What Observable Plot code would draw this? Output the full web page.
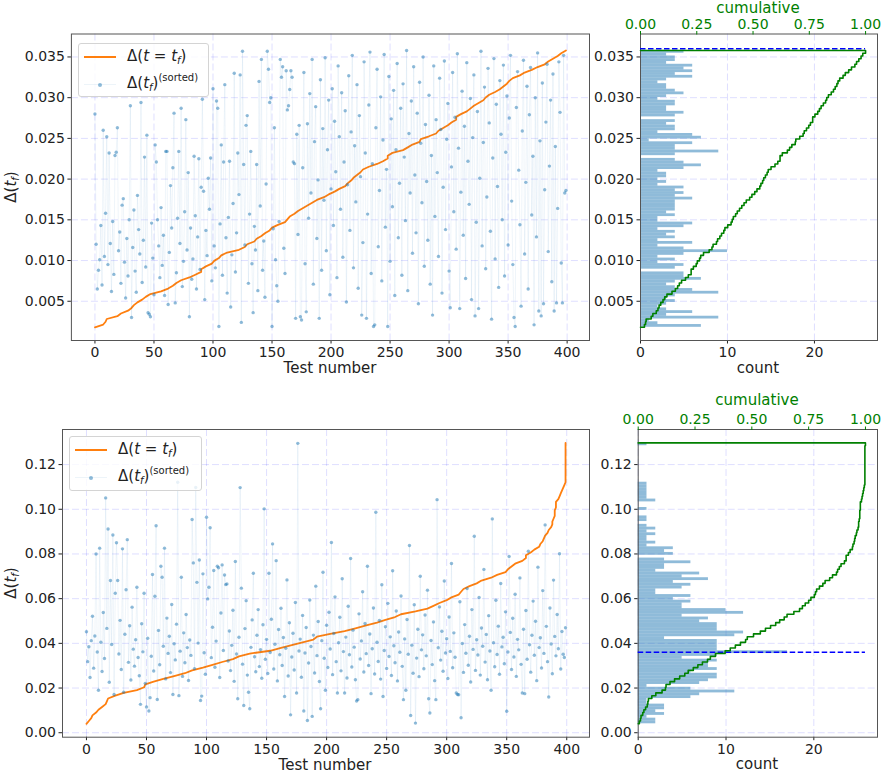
<!DOCTYPE html>
<html>
<head>
<meta charset="utf-8">
<script src="https://cdn.jsdelivr.net/npm/d3@7"></script>
<script src="https://cdn.jsdelivr.net/npm/@observablehq/plot@0.6"></script>
<style>
  body { margin: 0; background: #fff; font-family: "DejaVu Sans", sans-serif; color: #222; }
  #fig { position: relative; width: 888px; height: 778px; overflow: hidden; background: #fff; }
  .p { position: absolute; }
  .lbl { position: absolute; font-size: 15px; white-space: nowrap; transform: translate(-50%, -50%); line-height: 1; }
  .ylbl { position: absolute; font-size: 15px; white-space: nowrap; transform: translate(-50%, -50%) rotate(-90deg); line-height: 1; }
  .legend { position: absolute; background: rgba(255,255,255,0.8); border: 1px solid #d4d4d4; border-radius: 3px; box-sizing: border-box; }
  .lt { position: absolute; font-size: 15px; white-space: nowrap; transform: translateY(-50%); line-height: 1; }
  .lt sub { font-size: 10px; vertical-align: -3px; }
  .lt sup { font-size: 10px; vertical-align: 7px; }
  .ylbl sub { font-size: 10px; vertical-align: -3px; }
  .hline { position: absolute; width: 32px; height: 2px; background: #ff7f0e; }
  .hline2 { position: absolute; width: 32px; height: 1px; background: rgba(31,119,180,0.08); }
  .hdot { position: absolute; width: 4px; height: 4px; border-radius: 50%; background: rgba(31,119,180,0.5); }
</style>
</head>
<body>
<div id="fig"></div>
<script>
// ---------------- data ----------------
const testNumberTicks = [0, 50, 100, 150, 200, 250, 300, 350, 400];
const topYTicks = [0.005, 0.010, 0.015, 0.020, 0.025, 0.030, 0.035];
const bottomYTicks = [0.00, 0.02, 0.04, 0.06, 0.08, 0.10, 0.12];
const countTicks = [0, 10, 20];
const cumulativeTicks = [0, 0.25, 0.5, 0.75, 1];
const threshold = 0.036;

// top panel: Δ(t_f) per test number (in test order)
const topScatter = [
  .0280,.0120,.0065,.0088,.0101,.0143,.0070,.0260,.0105,.0158,
  .0252,.0095,.0232,.0121,.0062,.0148,.0083,.0229,.0233,.0263,
  .0112,.0135,.0072,.0168,.0176,.0098,.0054,.0127,.0081,.0150,
  .0290,.0030,.0116,.0162,.0087,.0061,.0180,.0138,.0108,.0294,
  .0073,.0125,.0227,.0092,.0254,.0036,.0034,.0031,.0146,.0103,
  .0058,.0242,.0221,.0150,.0118,.0079,.0165,.0094,.0131,.0057,
  .0234,.0234,.0046,.0110,.0192,.0140,.0214,.0281,.0048,.0085,
  .0152,.0234,.0121,.0287,.0068,.0099,.0160,.0273,.0113,.0208,
  .0031,.0140,.0077,.0102,.0228,.0155,.0065,.0129,.0225,.0089,
  .0190,.0298,.0185,.0052,.0137,.0106,.0201,.0163,.0226,.0075,
  .0311,.0118,.0091,.0296,.0287,.0019,.0145,.0242,.0082,.0221,
  .0316,.0128,.0060,.0153,.0222,.0043,.0107,.0170,.0330,.0086,
  .0134,.0232,.0181,.0328,.0024,.0357,.0218,.0119,.0266,.0278,
  .0072,.0157,.0234,.0096,.0036,.0142,.0113,.0218,.0063,.0320,
  .0167,.0347,.0088,.0124,.0055,.0194,.0357,.0335,.0294,.0300,
  .0019,.0139,.0263,.0101,.0069,.0050,.0148,.0347,.0325,.0338,
  .0115,.0084,.0333,.0285,.0290,.0310,.0333,.0325,.0221,.0219,
  .0029,.0255,.0132,.0266,.0031,.0027,.0214,.0331,.0096,.0037,
  .0268,.0152,.0305,.0183,.0347,.0071,.0246,.0289,.0127,.0199,
  .0029,.0322,.0088,.0262,.0174,.0349,.0112,.0236,.0297,.0058,
  .0188,.0311,.0143,.0271,.0209,.0079,.0339,.0252,.0163,.0306,
  .0104,.0221,.0284,.0049,.0193,.0327,.0137,.0258,.0352,.0091,
  .0241,.0172,.0316,.0066,.0278,.0203,.0033,.0122,.0344,.0232,
  .0029,.0157,.0291,.0356,.0084,.0219,.0019,.0021,.0263,.0335,
  .0117,.0186,.0301,.0075,.0248,.0353,.0141,.0212,.0019,.0326,
  .0099,.0274,.0166,.0309,.0057,.0236,.0342,.0128,.0195,.0287,
  .0082,.0317,.0227,.0149,.0358,.0063,.0256,.0183,.0296,.0109,
  .0338,.0205,.0134,.0281,.0047,.0319,.0244,.0171,.0350,.0093,
  .0267,.0197,.0125,.0303,.0071,.0229,.0033,.0339,.0154,.0273,
  .0208,.0105,.0324,.0261,.0060,.0190,.0345,.0138,.0249,.0293,
  .0087,.0042,.0215,.0331,.0160,.0276,.0114,.0354,.0238,.0041,
  .0184,.0308,.0131,.0265,.0078,.0343,.0222,.0169,.0299,.0052,
  .0251,.0328,.0032,.0147,.0283,.0041,.0201,.0357,.0118,.0245,
  .0313,.0090,.0178,.0336,.0269,.0136,.0028,.0226,.0348,.0102,
  .0292,.0191,.0067,.0321,.0255,.0150,.0340,.0081,.0233,.0302,
  .0119,.0275,.0352,.0173,.0095,.0030,.0019,.0288,.0332,.0211,
  .0144,.0044,.0259,.0346,.0108,.0196,.0314,.0065,.0279,.0337,
  .0156,.0228,.0021,.0300,.0129,.0355,.0038,.0247,.0032,.0318,
  .0047,.0187,.0270,.0341,.0111,.0216,.0297,.0074,.0329,.0038,
  .0240,.0048,.0164,.0344,.0282,.0097,.0048,.0352,.0183,.0186
];

// bottom panel: Δ(t_f) per test number (in test order)
const bottomScatter = [
  .0452,.0318,.0385,.0247,.0412,.0521,.0289,.0433,.0800,.0361,
  .0190,.0826,.0405,.0274,.0538,.0332,.1051,.0467,.0912,.0226,
  .0681,.0395,.0885,.0171,.0624,.0850,.0681,.0352,.0503,.0283,
  .0823,.0181,.0441,.0640,.0864,.0315,.0479,.0236,.0562,.0374,
  .0298,.0416,.0651,.0337,.0255,.0127,.0488,.0362,.0624,.0221,
  .0115,.0423,.0097,.0157,.0342,.0708,.0276,.0611,.0926,.0149,
  .0458,.0304,.0745,.0696,.0387,.0826,.0241,.0513,.0355,.0432,
  .0269,.0574,.0171,.0398,.0326,.0486,.1121,.0166,.0365,.0696,
  .0252,.0447,.0313,.0529,.0381,.0234,.0415,.0346,.0954,.0760,
  .0287,.1098,.0673,.0401,.0773,.0144,.0164,.0711,.0358,.0262,
  .0964,.0599,.0651,.0917,.0336,.0472,.0726,.0293,.0410,.0745,
  .0738,.0247,.0536,.0751,.0368,.0706,.0663,.0666,.0321,.0455,
  .0278,.0391,.0548,.0230,.0766,.0352,.0152,.0427,.1097,.0647,
  .0307,.0122,.0466,.0591,.0258,.0181,.0107,.0382,.0505,.0714,
  .0340,.0273,.0436,.0551,.0296,.0372,.0244,.0483,.1002,.0329,
  .0418,.0265,.0714,.0359,.0508,.0845,.0285,.0396,.0770,.0232,
  .0462,.0349,.0557,.0301,.0426,.0162,.0378,.0684,.0254,.0492,
  .0080,.0339,.0445,.0281,.0583,.0178,.1295,.0366,.0419,.0248,
  .0525,.0097,.0357,.0471,.0055,.0312,.0594,.0386,.0073,.0437,
  .0267,.0656,.0345,.0498,.0229,.0107,.0412,.0718,.0333,.0190,
  .0481,.0292,.0539,.0375,.0851,.0260,.0444,.0608,.0318,.0178,
  .0403,.0517,.0277,.0689,.0363,.0178,.0428,.0245,.0566,.0349,
  .0780,.0294,.0459,.0383,.0237,.0142,.0148,.0532,.0330,.0411,
  .0631,.0272,.0489,.0354,.0745,.0301,.0442,.0175,.0376,.0558,
  .0263,.0987,.0405,.0319,.0503,.0240,.0662,.0162,.0368,.0474,
  .0288,.0579,.0341,.0429,.0256,.0725,.0389,.0313,.0545,.0232,
  .0451,.0360,.0612,.0297,.0148,.0420,.0190,.0507,.0351,.0838,
  .0077,.0392,.0266,.0573,.0043,.0334,.0463,.0251,.0700,.0371,
  .0438,.0286,.0527,.0344,.0638,.0152,.0088,.0413,.0305,.0496,
  .0233,.0148,.1043,.0380,.0563,.0325,.0454,.0275,.0679,.0357,
  .0421,.0243,.0518,.0364,.0757,.0291,.0447,.0338,.0178,.0171,
  .0170,.0586,.0067,.0399,.0270,.0484,.0356,.0645,.0302,.0432,
  .0227,.0551,.0373,.0879,.0279,.0416,.0348,.0605,.0258,.0469,
  .0387,.0731,.0316,.0440,.0237,.0524,.0366,.0190,.0957,.0403,
  .0295,.0593,.0350,.0477,.0262,.0668,.0384,.0427,.0309,.0541,
  .0096,.0361,.0789,.0449,.0283,.0512,.0339,.0620,.0252,.0418,
  .0371,.0693,.0306,.0178,.0463,.0175,.0547,.0329,.0812,.0394,
  .0271,.0436,.0589,.0347,.0499,.0233,.0741,.0381,.0425,.0290,
  .0636,.0355,.0930,.0476,.0318,.0160,.0558,.0397,.0264,.0683,
  .0431,.0344,.0529,.0376,.0801,.0285,.0453,.0351,.0337,.0470
];

// histogram bin counts (100 equal bins from min to max, lowest bin first)
const topMin = 0.0018, topMax = 0.0358;
const topHistCounts = [
  7,2,1,9,3,6,3,2,3,4, 3,4,9,6,4,3,4,7,5,5, 0,4,5,2,4,2,5,10,5,2,
  6,2,4,3,4,2,5,6,2,2, 4,3,4,4,4,4,6,4,5,4, 5,2,3,2,3,3,2,5,7,5,
  4,0,4,9,4,4,6,1,7,6, 2,4,4,3,4,0,4,5,3,3, 4,4,2,3,5,4,3,3,2,3,
  6,4,6,5,6,3,4,4,3,5
];
const bottomMin = 0.0040, bottomMax = 0.1297;
const bottomHistCounts = [
  2,2,1,3,2,3,3,1,1,6, 7,11,6,1,7,8,9,9,6,9, 8,8,9,5,9,17,9,9,9,9,
  3,11,12,9,9,9,7,8,5,12, 10,5,5,6,4,6,2,2,5,6, 4,8,5,7,2,3,3,6,3,0,
  4,3,4,1,2,1,1,2,1,2, 1,0,1,1,0,0,1,0,0,2, 1,1,1,1,1,1,0,0,0,0,
  0,0,0,0,0,0,0,0,0,1
];

// ---------------- derived ----------------
function derive(counts, lo, hi) {
  const n = counts.length, N = d3.sum(counts);
  const edges = d3.range(n + 1).map(i => lo + (hi - lo) * i / n);
  const cum = Array.from(d3.cumsum(counts));
  const bars = counts.map((c, i) => ({c, y1: edges[i], y2: edges[i + 1]}));
  const sorted = [{x: 0, y: lo}].concat(counts.map((c, i) => ({x: Math.min(cum[i], N - 1), y: edges[i + 1]})));
  const step = [{c: 0, v: lo}];
  counts.forEach((c, i) => { step.push({c: cum[i] / N, v: edges[i]}, {c: cum[i] / N, v: edges[i + 1]}); });
  step.push({c: 0, v: hi});
  return {bars, sorted, step};
}

// ---------------- drawing ----------------
const fig = document.getElementById("fig");
const grid = {stroke: "#0000ff", strokeOpacity: 0.13, strokeDasharray: "7,3", strokeWidth: 1};
const baseStyle = {fontFamily: "DejaVu Sans", fontSize: "14px", background: "transparent", color: "#222", overflow: "visible"};
const testDomain = [-19.95, 418.95];

function place(node, left, top) {
  const d = document.createElement("div");
  d.className = "p"; d.style.left = left + "px"; d.style.top = top + "px";
  d.appendChild(node); fig.appendChild(d);
}

function row(cfg) {
  const {top, h, mT, mB, mainL, histL, scatter, counts, lo, hi, yDomain, yTicks, fmt} = cfg;
  const der = derive(counts, lo, hi);
  const main = Plot.plot({
    width: 600, height: h, marginLeft: mainL, marginRight: 11, marginTop: mT, marginBottom: mB,
    style: baseStyle,
    x: {domain: testDomain, ticks: testNumberTicks, tickSize: 3.5, tickPadding: 3, label: null},
    y: {domain: yDomain, ticks: yTicks, tickFormat: fmt, tickSize: 3.5, tickPadding: 3, label: null},
    marks: [
      Plot.gridX(testNumberTicks, grid),
      Plot.gridY(yTicks, grid),
      Plot.line(der.sorted, {x: "x", y: "y", stroke: "#ff7f0e", strokeWidth: 1.8}),
      Plot.line(scatter, {x: (d, i) => i, y: d => d, stroke: "#1f77b4", strokeOpacity: 0.07, strokeWidth: 1}),
      Plot.dot(scatter, {x: (d, i) => i, y: d => d, r: 1.7, fill: "#1f77b4", fillOpacity: 0.5}),
      Plot.frame({stroke: "#555"})
    ]
  });
  place(main, 0, top);

  const hist = Plot.plot({
    width: 298, height: h, marginLeft: histL, marginRight: 11, marginTop: mT, marginBottom: mB,
    style: baseStyle,
    x: {domain: [0, 27.25], ticks: countTicks, tickSize: 3.5, tickPadding: 3, label: null},
    y: {domain: yDomain, ticks: yTicks, tickFormat: fmt, tickSize: 3.5, tickPadding: 3, label: null},
    marks: [
      Plot.gridX(countTicks, grid),
      Plot.gridY(yTicks, grid),
      Plot.rect(der.bars, {x1: 0, x2: "c", y1: "y1", y2: "y2", fill: "#1f77b4", fillOpacity: 0.5}),
      Plot.frame({stroke: "#555"})
    ]
  });
  place(hist, 590, top);

  const cumul = Plot.plot({
    width: 298, height: h, marginLeft: histL, marginRight: 11, marginTop: mT, marginBottom: mB,
    style: Object.assign({}, baseStyle, {color: "green"}),
    x: {domain: [0, 1.053], axis: null},
    y: {domain: yDomain, axis: null},
    marks: [
      Plot.ruleY([threshold], {x1: 0, x2: 1, stroke: "blue", strokeWidth: 1.5, strokeDasharray: "5.5,2.5"}),
      Plot.line(der.step, {x: "c", y: "v", stroke: "green", strokeWidth: 1.6}),
      Plot.axisX(cumulativeTicks, {anchor: "top", tickFormat: ".2f", color: "green", tickSize: 3.5, tickPadding: 2, label: null})
    ]
  });
  place(cumul, 590, top);
}

row({top: 0, h: 380, mT: 33.5, mB: 40, mainL: 70.9, histL: 50,
     scatter: topScatter, counts: topHistCounts, lo: topMin, hi: topMax,
     yDomain: [0.00018, 0.03782], yTicks: topYTicks, fmt: ".3f"});
row({top: 390, h: 388, mT: 39, mB: 41.3, mainL: 62, histL: 47.7,
     scatter: bottomScatter, counts: bottomHistCounts, lo: bottomMin, hi: bottomMax,
     yDomain: [-0.0020, 0.1357], yTicks: bottomYTicks, fmt: ".2f"});

// ---------------- text: labels & legends ----------------
function addHTML(html) { fig.insertAdjacentHTML("beforeend", html); }
const deltaTf = 'Δ(<i>t</i><sub><i>f</i></sub>)';
addHTML(`<div class="lbl" style="left:330px;top:368px">Test number</div>`);
addHTML(`<div class="lbl" style="left:325px;top:765px">Test number</div>`);
addHTML(`<div class="lbl" style="left:758px;top:368px">count</div>`);
addHTML(`<div class="lbl" style="left:757px;top:764px">count</div>`);
addHTML(`<div class="lbl" style="left:758px;top:8px;color:green">cumulative</div>`);
addHTML(`<div class="lbl" style="left:757px;top:400px;color:green">cumulative</div>`);
addHTML(`<div class="ylbl" style="left:12px;top:187px">${deltaTf}</div>`);
addHTML(`<div class="ylbl" style="left:12px;top:583px">${deltaTf}</div>`);

function legend(left, top, w, h) {
  addHTML(`<div class="legend" style="left:${left}px;top:${top}px;width:${w}px;height:${h}px">
    <div class="hline" style="left:5px;top:12px"></div>
    <span class="lt" style="left:48px;top:13px">Δ(<i>t</i> = <i>t</i><sub><i>f</i></sub>)</span>
    <div class="hline2" style="left:5px;top:40px"></div>
    <div class="hdot" style="left:19px;top:38.5px"></div>
    <span class="lt" style="left:48px;top:39px">${deltaTf}<sup>(sorted)</sup></span>
  </div>`);
}
legend(78, 43, 131, 54);
legend(69, 436, 133, 55);
</script>
</body>
</html>
